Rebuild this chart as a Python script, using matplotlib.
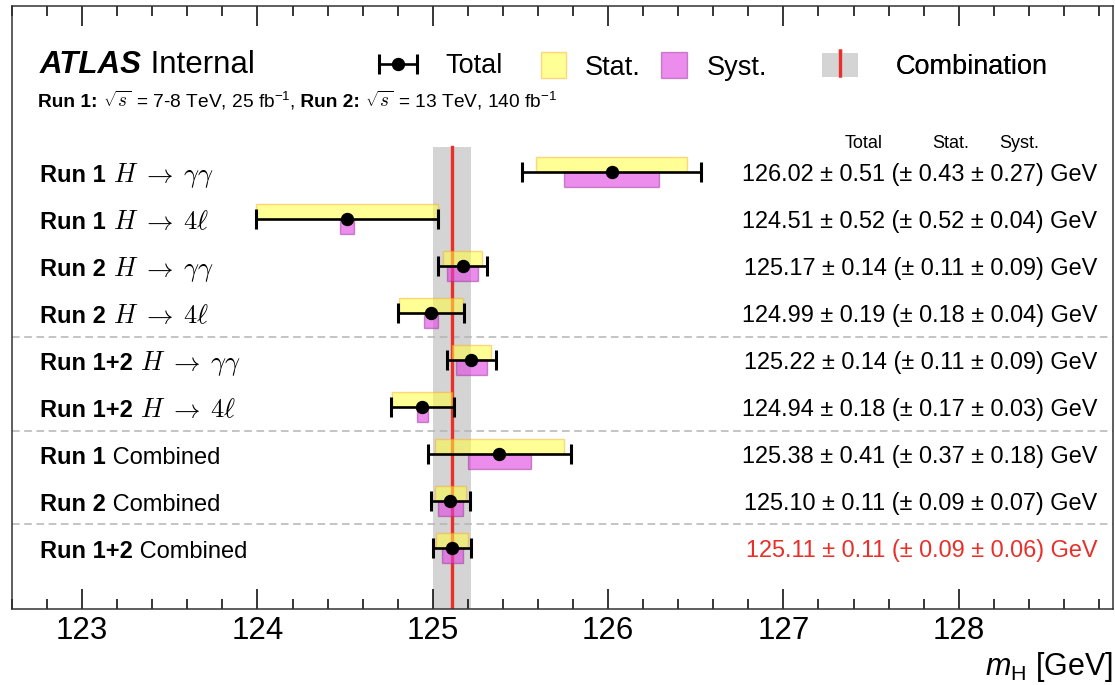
import matplotlib
matplotlib.use('Agg')
import matplotlib.pyplot as plt
from matplotlib.ticker import MultipleLocator
from matplotlib.transforms import offset_copy
from matplotlib.patches import Patch
from matplotlib.lines import Line2D
from matplotlib.container import ErrorbarContainer
from matplotlib.legend_handler import HandlerTuple, HandlerErrorbar

plt.rcParams['font.family'] = ['Liberation Sans', 'DejaVu Sans']
plt.rcParams['mathtext.fontset'] = 'custom'
plt.rcParams['mathtext.rm'] = 'Liberation Sans'
plt.rcParams['mathtext.it'] = 'Liberation Sans:italic'
plt.rcParams['mathtext.bf'] = 'Liberation Sans:bold'

# measurements, top to bottom
runs = ['Run 1', 'Run 1', 'Run 2', 'Run 2', 'Run 1+2', 'Run 1+2',
        'Run 1', 'Run 2', 'Run 1+2']
channels = [r'$H\;\rightarrow\;\gamma\gamma$', r'$H\;\rightarrow\;4\ell$',
            r'$H\;\rightarrow\;\gamma\gamma$', r'$H\;\rightarrow\;4\ell$',
            r'$H\;\rightarrow\;\gamma\gamma$', r'$H\;\rightarrow\;4\ell$',
            'Combined', 'Combined', 'Combined']
mass = [126.02, 124.51, 125.17, 124.99, 125.22, 124.94, 125.38, 125.10, 125.11]
tot = [0.51, 0.52, 0.14, 0.19, 0.14, 0.18, 0.41, 0.11, 0.11]
stat = [0.43, 0.52, 0.11, 0.18, 0.11, 0.17, 0.37, 0.09, 0.09]
syst = [0.27, 0.04, 0.09, 0.04, 0.09, 0.03, 0.18, 0.07, 0.06]
group_last = [3, 5, 7]   # dashed line after these rows

red = '#e8302a'
yel = (1.0, 1.0, 0.25, 0.55)
yel_edge = (1.0, 0.65, 0.1, 0.45)
mag = (0.88, 0.25, 0.88, 0.6)
mag_edge = (0.6, 0.2, 0.6, 0.5)
band = '#d4d4d4'

n = len(mass)
rows = list(range(n))
ytop, ybot = -3.543, 9.298
band_top = -0.53

fig = plt.figure(figsize=(11.15, 6.85), dpi=100)
ax = fig.add_axes([0.01076, 0.11095, 0.98745, 0.88102])
ax.set_xlim(122.6, 128.88)
ax.set_ylim(ybot, ytop)

# combination band and central line
mc, ec = mass[-1], tot[-1]
ax.fill_betweenx([band_top, ybot], mc - ec, mc + ec, color=band, lw=0, zorder=0)
ax.plot([mc, mc], [band_top, ybot], color=red, lw=2.4, zorder=1)

for g in group_last:
    ax.axhline(g + 0.5, color='#b4b4b4', lw=1.1, ls=(0, (5, 3)), zorder=0)

left_stat = [m - s for m, s in zip(mass, stat)]
left_syst = [m - s for m, s in zip(mass, syst)]
ax.barh(rows, [2 * s for s in stat], height=-0.31, left=left_stat, align='edge',
        color=yel, edgecolor=yel_edge, lw=1.0, zorder=2)
ax.barh(rows, [2 * s for s in syst], height=0.31, left=left_syst, align='edge',
        color=mag, edgecolor=mag_edge, lw=1.0, zorder=2)
eb = ax.errorbar(mass, rows, xerr=tot, fmt='o', color='k', ms=8.6,
                 elinewidth=1.9, capsize=7.5, capthick=2.2, zorder=5)

# axes styling
ax.xaxis.set_major_locator(MultipleLocator(1))
ax.xaxis.set_minor_locator(MultipleLocator(0.2))
ax.tick_params(which='both', direction='in', top=True, bottom=True,
               left=False, right=False, labelleft=False, width=1.1)
ax.tick_params(which='major', length=14.4, labelsize=22.5, pad=5)
ax.tick_params(which='minor', length=7.2)
ax.set_yticks([])
for sp in ax.spines.values():
    sp.set_linewidth(1.1)
    sp.set_color('#333333')
ax.set_xlabel(r'$m_{\mathrm{H}}$ [GeV]', loc='right', fontsize=22, labelpad=3)

renderer = fig.canvas.get_renderer()


def put_parts(x, y, parts, size):
    dx = 0
    for s, kw in parts:
        kw = dict(kw)
        fs = kw.pop('fontsize', size)
        tr = offset_copy(ax.transData, fig=fig, x=dx, y=0, units='dots')
        t = ax.text(x, y, s, transform=tr, fontsize=fs, va='baseline',
                    ha='left', **kw)
        dx += t.get_window_extent(renderer).width


bold = dict(fontweight='bold')
cm = dict(math_fontfamily='cm')
plain = dict()

xl = 122.76
for i in rows:
    if '$' in channels[i]:
        part = (' ' + channels[i], dict(math_fontfamily='cm', fontsize=19))
    else:
        part = (' ' + channels[i], plain)
    put_parts(xl, i + 0.22, [(runs[i], bold), part], 17)
    txt = '%.2f ± %.2f (± %.2f ± %.2f) GeV' % (mass[i], tot[i], stat[i], syst[i])
    ax.text(128.79, i + 0.19, txt, fontsize=16.9, ha='right', va='baseline',
            color=red if i == n - 1 else 'k')

for lab, xc in zip(['Total', 'Stat.', 'Syst.'], [127.457, 127.956, 128.343]):
    ax.text(xc, -0.504, lab, fontsize=13, ha='center', va='baseline')

put_parts(xl, -2.1, [('ATLAS', dict(fontweight='bold', fontstyle='italic')),
                     (' Internal', plain)], 22.5)
put_parts(122.75, -1.377,
          [('Run 1:', bold), (r' $\sqrt{s}$', cm),
           (r' = 7-8 TeV, 25 fb$^{-1}$,', plain), (' Run 2:', bold),
           (r' $\sqrt{s}$', cm), (r' = 13 TeV, 140 fb$^{-1}$', plain)], 13.8)


def add_leg(handles, labels, x, hl, htp, hh, hmap=None):
    leg = ax.legend(handles, labels, loc='center left', bbox_to_anchor=(x, 0.899),
                    frameon=False, fontsize=19.5, handlelength=hl,
                    handletextpad=htp, handleheight=hh, borderpad=0,
                    borderaxespad=0, numpoints=1, handler_map=hmap)
    ax.add_artist(leg)


add_leg([eb], ['Total'], 0.3333, 1.4, 1.05, 0.7,
        {ErrorbarContainer: HandlerErrorbar(xerr_size=0.7)})
add_leg([Patch(facecolor=yel, edgecolor=yel_edge)], ['Stat.'], 0.4805, 0.92, 0.7, 1.1)
add_leg([Patch(facecolor=mag, edgecolor=mag_edge)], ['Syst.'], 0.5895, 0.96, 0.74, 1.1)
add_leg([(Patch(facecolor=band, lw=0),
          Line2D([], [], color=red, marker='|', ms=20, mew=2.4, ls='none'))],
        ['Combination'], 0.7357, 1.33, 1.37, 1.03,
        {tuple: HandlerTuple(ndivide=1)})

fig.savefig('out.png', dpi=100)
